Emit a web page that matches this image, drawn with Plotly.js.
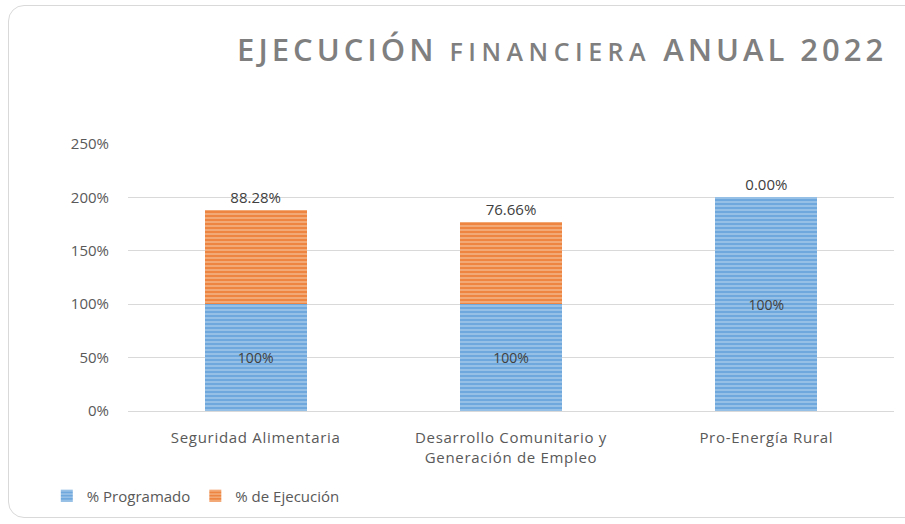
<!DOCTYPE html>
<html>
<head>
<meta charset="utf-8">
<script src="https://cdn.plot.ly/plotly-3.0.1.min.js"></script>
<style>
html,body{margin:0;padding:0;background:#fff;}
#wrap{position:relative;width:905px;height:524px;overflow:hidden;}
#chart{position:absolute;left:0;top:0;width:905px;height:524px;}
#frame{position:absolute;left:8px;top:5px;width:930px;height:513px;border:1px solid #d9d9d9;border-radius:16px;pointer-events:none;box-sizing:border-box;}
.gtitle{letter-spacing:4px;}
.xtick text{letter-spacing:0.7px;}
</style>
</head>
<body>
<div id="wrap"><div id="chart"></div><div id="frame"></div></div>
<script>
const categories = ["Seguridad Alimentaria", "Desarrollo Comunitario y<br>Generación de Empleo", "Pro-Energía Rural"];
const programado = [1.0, 1.0, 2.0];
const programadoLabels = ["100%", "100%", "100%"];
const ejecucion = [0.8828, 0.7666, 0.0];
const ejecucionLabels = ["88.28%", "76.66%", "0.00%"];
const yTickVals = [0, 0.5, 1, 1.5, 2, 2.5];
const yTickText = ["0%", "50%", "100%", "150%", "200%", "250%"];

const font = "'Open Sans', 'DejaVu Sans', sans-serif";

const traces = [
  {
    type: 'bar', name: '% Programado', x: categories, y: programado,
    text: programadoLabels, textposition: 'inside', insidetextanchor: 'middle',
    textfont: {family: font, size: 14, color: '#404040'},
    width: 0.4,
    marker: {color: '#5B9BD5', line: {width: 0},
      pattern: {shape: '-', bgcolor: '#6FA8DC', fgcolor: '#A9CBEB', size: 4, solidity: 0.35, fillmode: 'replace'}},
    hoverinfo: 'none'
  },
  {
    type: 'bar', name: '% de Ejecución', x: categories, y: ejecucion,
    text: ejecucionLabels, textposition: 'outside', cliponaxis: false,
    textfont: {family: font, size: 15, color: '#404040'},
    width: 0.4,
    marker: {color: '#ED7D31', line: {width: 0},
      pattern: {shape: '-', bgcolor: '#EE8540', fgcolor: '#F5B98E', size: 4, solidity: 0.35, fillmode: 'replace'}},
    hoverinfo: 'none'
  }
];

const layout = {
  width: 905, height: 524,
  margin: {l: 128, r: 11, t: 144, b: 113},
  barmode: 'stack',
  paper_bgcolor: 'rgba(0,0,0,0)', plot_bgcolor: 'rgba(0,0,0,0)',
  font: {family: font, size: 15, color: '#595959'},
  title: {
    text: "<span style='font-size:31px;letter-spacing:4px'>EJECUCIÓN</span> <span style='font-size:25px;letter-spacing:5.5px'>FINANCIERA</span> <span style='font-size:31px;letter-spacing:4px'>ANUAL 2022</span>",
    font: {family: font, size: 31, color: '#7F7F7F', weight: 600},
    x: 0.262, xref: 'container', xanchor: 'left',
    y: 0.905, yref: 'container', yanchor: 'middle'
  },
  xaxis: {
    tickfont: {family: font, size: 15, color: '#595959'},
    showgrid: false, showline: true, linecolor: '#d9d9d9', linewidth: 1,
    ticks: '', ticklabelstandoff: 13, fixedrange: true
  },
  yaxis: {
    range: [0, 2.5], tickvals: yTickVals, ticktext: yTickText,
    tickfont: {family: font, size: 15, color: '#595959'},
    gridcolor: '#d9d9d9', gridwidth: 1, zeroline: false,
    showline: false, ticks: '', ticklen: 0, ticklabelstandoff: 18,
    automargin: false, fixedrange: true
  },
  legend: {
    orientation: 'h', x: -0.106, xanchor: 'left', y: -0.318, yanchor: 'middle',
    font: {family: font, size: 15, color: '#595959'},
    itemwidth: 30, traceorder: 'normal'
  },
  showlegend: true
};

Plotly.newPlot('chart', traces, layout, {displayModeBar: false, staticPlot: true});
</script>
</body>
</html>
